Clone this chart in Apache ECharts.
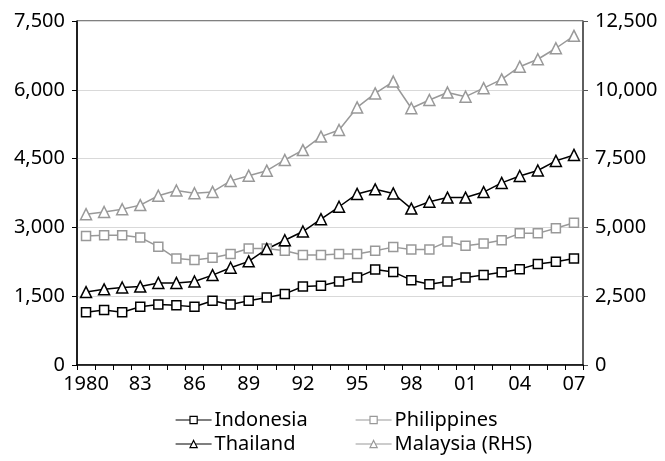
<!DOCTYPE html>
<html>
<head>
<meta charset="utf-8">
<script src="https://cdn.jsdelivr.net/npm/echarts@6/dist/echarts.min.js"></script>
<style>
  html, body { margin: 0; padding: 0; background: #fff; }
  #chart { width: 665px; height: 461px; }
</style>
</head>
<body>
<div id="chart"></div>
<script>
// 年份（横轴类目）
var years = ['1980', '81', '82', '83', '84', '85', '86', '87', '88', '89',
             '90', '91', '92', '93', '94', '95', '96', '97', '98', '99',
             '00', '01', '02', '03', '04', '05', '06', '07'];

// 左轴
var indonesia = [1150, 1200, 1150, 1270, 1320, 1300, 1270, 1400, 1320, 1400,
                 1470, 1550, 1710, 1730, 1820, 1910, 2080, 2030, 1850, 1760,
                 1820, 1910, 1960, 2020, 2090, 2200, 2250, 2320];
var philippines = [2810, 2830, 2830, 2780, 2580, 2320, 2290, 2340, 2420, 2540,
                   2540, 2490, 2400, 2400, 2420, 2420, 2490, 2570, 2520, 2520,
                   2690, 2600, 2650, 2720, 2870, 2870, 2980, 3100];
var thailand = [1590, 1650, 1690, 1710, 1790, 1790, 1820, 1960, 2120, 2260,
                2530, 2720, 2910, 3180, 3450, 3730, 3830, 3740, 3410, 3560,
                3650, 3650, 3770, 3970, 4120, 4240, 4450, 4580];
// 右轴
var malaysia = [5480, 5560, 5660, 5810, 6150, 6340, 6240, 6290, 6690, 6880,
                7060, 7450, 7810, 8300, 8540, 9360, 9870, 10300, 9330, 9630,
                9900, 9750, 10060, 10380, 10840, 11110, 11510, 11960];

var leftTicks = { min: 0, max: 7500, interval: 1500 };
var rightTicks = { min: 0, max: 12500, interval: 2500 };

var FONT = 'Noto Sans';
var BLACK = '#000';
var GREY = '#999';

function fmt(v) {
    return v.toLocaleString('en-US');
}

function lineSeries(name, data, color, symbol, size, axisIndex) {
    return {
        name: name,
        type: 'line',
        data: data,
        yAxisIndex: axisIndex,
        symbol: symbol,
        symbolSize: size,
        showAllSymbol: true,
        lineStyle: { color: color, width: 1.5 },
        itemStyle: { color: '#fff', borderColor: color, borderWidth: 1.5 },
        emphasis: { disabled: true },
        animation: false
    };
}

function legendBlock(names, left) {
    return {
        data: names,
        orient: 'vertical',
        left: left,
        top: 405,
        itemWidth: 36,
        itemHeight: 9,
        itemGap: 4,
        itemStyle: { borderWidth: 1.2 },
        lineStyle: { width: 1.2 },
        textStyle: { fontFamily: FONT, fontSize: 20, color: '#000', padding: [0, 0, 0, -2] }
    };
}

var chart = echarts.init(document.getElementById('chart'));

chart.setOption({
    backgroundColor: '#fff',
    textStyle: { fontFamily: FONT },
    grid: {
        left: 77,
        right: 82,
        top: 21,
        bottom: 96,
        show: true,
        borderColor: BLACK,
        borderWidth: 1
    },
    legend: [
        legendBlock(['Indonesia', 'Thailand'], 170),
        legendBlock(['Philippines', 'Malaysia (RHS)'], 350)
    ],
    xAxis: {
        type: 'category',
        data: years,
        boundaryGap: true,
        axisLine: { lineStyle: { color: BLACK, width: 1.5 } },
        axisTick: { show: true, interval: 0, length: 5, lineStyle: { color: BLACK } },
        axisLabel: {
            interval: 2,
            margin: 9,
            fontFamily: FONT,
            fontSize: 20,
            color: '#000'
        },
        splitLine: { show: false }
    },
    yAxis: [
        {
            type: 'value',
            position: 'left',
            min: leftTicks.min,
            max: leftTicks.max,
            interval: leftTicks.interval,
            axisLine: { show: true, lineStyle: { color: BLACK, width: 1.5 } },
            axisTick: { show: true, length: 5, lineStyle: { color: BLACK } },
            axisLabel: { margin: 12, fontFamily: FONT, fontSize: 20, color: '#000', formatter: fmt },
            splitLine: { show: true, lineStyle: { color: '#d9d9d9', width: 1 } }
        },
        {
            type: 'value',
            position: 'right',
            min: rightTicks.min,
            max: rightTicks.max,
            interval: rightTicks.interval,
            axisLine: { show: true, lineStyle: { color: '#555', width: 1.5 } },
            axisTick: { show: true, length: 5, lineStyle: { color: '#555' } },
            axisLabel: { margin: 12, fontFamily: FONT, fontSize: 20, color: '#000', formatter: fmt },
            splitLine: { show: false }
        }
    ],
    series: [
        lineSeries('Indonesia', indonesia, BLACK, 'rect', 9, 0),
        lineSeries('Philippines', philippines, GREY, 'rect', 9, 0),
        lineSeries('Thailand', thailand, BLACK, 'triangle', 11, 0),
        lineSeries('Malaysia (RHS)', malaysia, GREY, 'triangle', 11, 1)
    ]
});
</script>
</body>
</html>
